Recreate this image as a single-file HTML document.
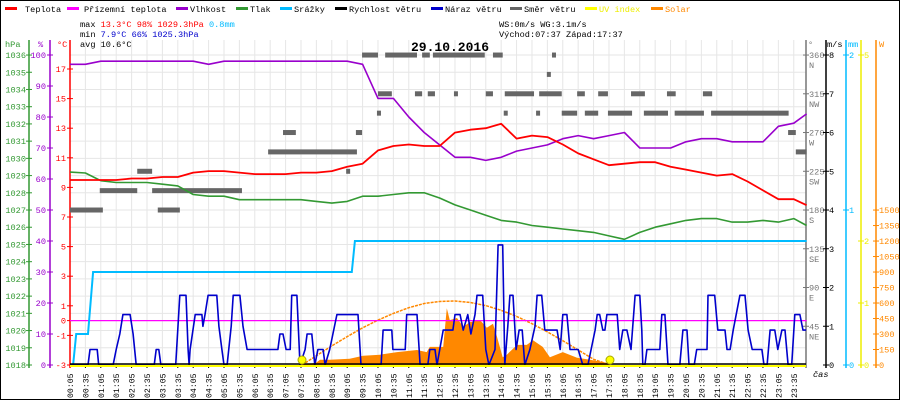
<!DOCTYPE html>
<html><head><meta charset="utf-8"><style>
html,body{margin:0;padding:0;background:#fff}
#wrap{position:relative;width:900px;height:400px;overflow:hidden}
svg text{font-family:"Liberation Mono",monospace}
</style></head><body>
<div id="wrap">
<svg id="chart" width="900" height="400" viewBox="0 0 900 400" xmlns="http://www.w3.org/2000/svg">
<rect x="0.5" y="0.5" width="899" height="399" fill="#fff" stroke="#000"/>
<g id="grid"></g>
<g id="legend" font-size="8.6">
<g><rect x="5" y="7" width="12" height="3" fill="#f00"/><text x="25" y="12">Teplota</text></g>
<g><rect x="67" y="7" width="12" height="3" fill="#f0f"/><text x="84" y="12">Přízemní teplota</text></g>
<g><rect x="176" y="7" width="12" height="3" fill="#90c"/><text x="190" y="12">Vlhkost</text></g>
<g><rect x="236" y="7" width="12" height="3" fill="#393"/><text x="250" y="12">Tlak</text></g>
<g><rect x="280" y="7" width="12" height="3" fill="#0bf"/><text x="294" y="12">Srážky</text></g>
<g><rect x="335" y="7" width="12" height="3" fill="#000"/><text x="349" y="12">Rychlost větru</text></g>
<g><rect x="431" y="7" width="12" height="3" fill="#00c"/><text x="445" y="12">Náraz větru</text></g>
<g><rect x="510" y="7" width="12" height="3" fill="#666"/><text x="524" y="12">Směr větru</text></g>
<g><rect x="585" y="7" width="12" height="3" fill="#ff0"/><text x="599" y="12" fill="#ee0">UV index</text></g>
<g><rect x="651" y="7" width="12" height="3" fill="#f80"/><text x="665" y="12" fill="#f80">Solar</text></g>
</g>
<g font-size="8.6">
<text x="80" y="27">max <tspan fill="#f00">13.3°C  98%  1029.3hPa</tspan>   <tspan fill="#0bf">0.8mm</tspan></text>
<text x="80" y="37">min  <tspan fill="#00c">7.9°C  66%  1025.3hPa</tspan></text>
<text x="80" y="47">avg 10.6°C</text>
<text x="499" y="27">WS:0m/s    WG:3.1m/s</text>
<text x="499" y="37">Východ:07:37 Západ:17:37</text>
</g>
<text x="450" y="51" font-size="13" font-weight="bold" text-anchor="middle">29.10.2016</text>
<g id="axes" font-size="8.6"></g>
<g id="plot"></g>
</svg>
</div>
<script>
// ---- data ----
const timeLabels = ["00:05","00:35","01:05","01:35","02:05","02:35","03:05","03:35","04:05","04:35","05:05","05:35","06:05","06:35","07:05","07:35","08:05","08:35","09:05","09:35","10:05","10:35","11:05","11:35","12:05","12:35","13:05","13:35","14:05","14:35","15:05","15:35","16:05","16:35","17:05","17:35","18:05","18:35","19:05","19:35","20:05","20:35","21:05","21:35","22:05","22:35","23:05","23:35"];
const tempValues = [9.5,9.5,9.5,9.5,9.6,9.6,9.7,9.7,10.0,10.1,10.1,10.0,9.9,9.9,9.9,10.0,10.0,10.1,10.4,10.6,11.5,11.8,11.9,11.8,11.8,12.7,12.9,13.0,13.3,12.3,12.5,12.4,11.9,11.3,10.9,10.5,10.6,10.7,10.7,10.4,10.2,10.0,9.8,9.9,9.4,8.8,8.2,8.2,7.8];
const groundTempValues = [0,0,0,0,0,0,0,0,0,0,0,0,0,0,0,0,0,0,0,0,0,0,0,0,0,0,0,0,0,0,0,0,0,0,0,0,0,0,0,0,0,0,0,0,0,0,0,0,0];
const humidityValues = [97,97,98,98,98,98,98,98,98,97,98,98,98,98,98,98,98,98,98,97,86,86,80,75,71,67,67,66,67,69,70,71,73,74,73,74,75,70,70,70,72,73,73,72,72,72,77,78,81];
const pressureValues = [1029.2,1029.15,1028.7,1028.6,1028.6,1028.6,1028.5,1028.4,1027.9,1027.8,1027.8,1027.6,1027.6,1027.6,1027.6,1027.6,1027.5,1027.4,1027.5,1027.8,1027.8,1027.9,1028.0,1028.0,1027.7,1027.3,1027.0,1026.7,1026.4,1026.3,1026.1,1026.0,1025.9,1025.8,1025.7,1025.5,1025.3,1025.7,1026.0,1026.2,1026.4,1026.5,1026.5,1026.3,1026.3,1026.4,1026.3,1026.5,1026.1];
const rainTimes = [5,11,17,40,50,554,560,1440];
const rainValues = [0,0,0.2,0.2,0.6,0.6,0.8,0.8];
const gustTimes = [5,40,44,58,61,89,95,102,108,122,128,134,169,173,178,182,211,219,231,235,237,239,249,262,264,268,274,291,295,301,305,311,319,323,336,342,350,410,414,420,426,434,437,447,453,463,467,476,482,488,498,502,511,525,566,572,611,615,632,634,658,661,681,687,702,706,716,720,732,751,755,765,771,780,786,794,798,809,815,821,833,839,848,852,858,862,868,874,880,886,891,901,911,915,924,930,954,960,965,973,979,995,1004,1014,1028,1032,1037,1043,1047,1051,1071,1076,1082,1090,1098,1106,1115,1119,1121,1125,1129,1154,1158,1164,1170,1193,1199,1207,1211,1221,1226,1246,1248,1261,1267,1275,1281,1285,1291,1297,1310,1320,1326,1334,1353,1357,1363,1369,1378,1384,1392,1398,1404,1411,1417,1427,1433,1439];
const gustValues = [0,0,0.4,0.4,0,0,0.4,0.8,1.3,1.3,0.8,0,0,0.4,0.4,0,0,1.8,1.8,0.4,0,0.4,1.3,1.3,1.0,1.3,1.8,1.8,1.0,0.4,0,0,1.0,1.8,1.8,1.0,0.4,0.4,0.8,0.8,0.4,0.4,1.8,1.8,0,0.4,0.8,0.8,0,0.4,0.4,0,0.4,1.3,1.3,0,0,0.9,0.9,0.4,0.4,1.3,1.3,0,0,0.4,0.4,0,0.9,0.9,1.3,1.3,0.9,1.3,0.8,1.3,1.8,1.8,0.4,0,0.4,3.1,3.1,0,1.0,1.8,1.8,0.4,0.9,0.9,0,0.4,1.0,1.8,1.8,0.9,0.9,0.4,1.3,1.3,0.4,0.4,0,0,0.9,1.3,1.3,0.9,0.9,1.3,1.3,0.4,0.9,0.9,0.4,1.8,1.8,0.9,0,0,0.4,0.4,1.3,1.3,0,0,0.9,0.9,0,0,0.4,0.4,1.8,1.8,0.9,0.9,0.9,0.4,0.4,0.9,1.8,1.8,0.9,0.4,0.4,0,0,0.9,0.9,0.4,0.9,0.9,0,0,1.3,1.3,0.9,0.9];
const solarTimes = [453,484,492,511,550,576,609,642,681,700,706,732,739,745,759,771,784,804,817,829,837,848,856,876,895,907,926,940,965,993,1018,1051,1057];
const solarValues = [0,20,50,50,60,90,100,125,145,125,175,175,550,435,455,370,415,435,360,400,270,75,100,195,195,240,175,75,125,70,50,20,0];
const theoTimes = [457,485,515,545,575,605,635,665,695,725,755,785,815,845,875,905,935,965,995,1025,1057];
const theoValues = [0,90,185,275,360,435,500,555,595,615,620,605,575,530,470,400,320,235,145,55,0];
const dirStart = [5,176,63,165,136,543,420,562,1404,391,1419,574,619,691,712,829,944,934,605,677,702,753,815,852,919,993,1034,1098,1168,1238,603,850,913,963,1008,1053,1123,1183,1254];
const dirEnd =   [69,219,136,340,165,549,445,574,1419,564,1440,605,681,706,813,848,950,940,632,691,716,758,829,909,963,1008,1053,1125,1185,1256,608,855,918,993,1034,1100,1170,1240,1405];
const dirDeg =   [180,180,202.5,202.5,225,225,270,270,270,247.5,247.5,360,360,360,360,360,360,337.5,315,315,315,315,315,315,315,315,315,315,315,315,292.5,292.5,292.5,292.5,292.5,292.5,292.5,292.5,292.5];
const sunEvents = [457,1057];
const hpaTicks = [1036,1035,1034,1033,1032,1031,1030,1029,1028,1027,1026,1025,1024,1023,1022,1021,1020,1019,1018];
const humTicks = [100,90,80,70,60,50,40,30,20,10,0];
const tempTicks = [17,15,13,11,9,7,5,3,1,0,-1,-3];
const dirTicks = [360,315,270,225,180,135,90,45];
const dirNames = ["N","NW","W","SW","S","SE","E","NE"];
const wsTicks = [8,7,6,5,4,3,2,1,0];
const mmTicks = [2,1,0];
const uvTicks = [5,2,1,0];
const wTicks = [1500,1350,1200,1050,900,750,600,450,300,150,0];

// ---- scales ----
const NS="http://www.w3.org/2000/svg";
function toMin(s){const p=s.split(":");return +p[0]*60+ +p[1];}
const sampleTimes = timeLabels.map(toMin).concat([1440]);
const xT = t => 70 + (t-5)*0.5133;
const yC = c => 69 + (17-c)*14.8;
const yP = p => 365 - (p-1018)*17.22;
const yH = h => 365 - h*3.1;
const yMM = m => 365 - m*155;
const yW = w => 365 - w*0.1033;
const yG = v => 365 - v*38.75;
const yD = d => 365 - d*0.861;
const yUV = u => 365 - u*62;
function mk(tag, attrs, parent, txt){const e=document.createElementNS(NS,tag);for(const k in attrs)e.setAttribute(k,attrs[k]);if(txt!==undefined)e.textContent=txt;parent.appendChild(e);return e;}
const grid=document.getElementById('grid'), axes=document.getElementById('axes'), plot=document.getElementById('plot');

// grid
hpaTicks.forEach(p=>{
  const l=mk('line',{x1:70,x2:806,y1:yP(p),y2:yP(p),stroke:'#e6e6e6','stroke-width':1},grid);
  
  
});
timeLabels.forEach(s=>{
  const x=xT(toMin(s));
  const l=mk('line',{x1:x,x2:x,y1:40,y2:365,stroke:'#e6e6e6','stroke-width':1},grid);
  
  
  const tk=mk('line',{x1:x,x2:x,y1:365,y2:368,stroke:'#000'},axes);
  
  
  const t=mk('text',{x:0,y:0,transform:`translate(${x+3},398) rotate(-90)`,'font-size':8.2},axes,s);
  
  
});
const cas=mk('text',{x:813,y:377,'font-style':'italic'},axes,'čas');



// left axes
function vaxis(x,color,ticks,scale,labelX,anchor,name,extra){
  const l=mk('line',{x1:x,x2:x,y1:40,y2:368,stroke:color,'stroke-width':1.5},axes);
  
  
  ticks.forEach((v,i)=>{
    const y=scale(v);
    const tk=mk('line',{x1:x-3,x2:x+3,y1:y,y2:y,stroke:color},axes);
    
    
    const t=mk('text',{x:labelX,y:y+3,fill:color,'text-anchor':anchor},axes,String(v));
    
    
    if(extra){const e=mk('text',{x:labelX,y:y+13,fill:color},axes,extra[i]);
      
      }
  });
}
vaxis(29,'#393',hpaTicks,yP,26,'end','hpa');
vaxis(50,'#90c',humTicks,yH,46,'end','humidity');
vaxis(70,'#f00',tempTicks,yC,66,'end','temperature');
vaxis(806,'#777',dirTicks,yD,809,'start','direction',dirNames);
vaxis(826,'#000',wsTicks,yG,829,'start','wind-speed');
vaxis(846,'#0bf',mmTicks,yMM,849,'start','rain');
vaxis(861,'#ee0',uvTicks,yUV,864,'start','uv');
vaxis(876,'#f80',wTicks,yW,879,'start','solar');
[['hPa',5,'#393'],['%',38,'#90c'],['°C',57,'#f00'],['°',808,'#777'],['m/s',827,'#000'],['mm',848,'#0bf'],['W',879,'#f80']].forEach(a=>{
  const t=mk('text',{x:a[1],y:47,fill:a[2]},axes,a[0]);
  
  
});

// solar fill
let sp=`M${xT(solarTimes[0])},365 `+solarTimes.map((t,i)=>`L${xT(t).toFixed(1)},${yW(solarValues[i]).toFixed(1)}`).join(' ')+` L${xT(solarTimes[solarTimes.length-1])},365 Z`;
const solar=mk('path',{d:sp,fill:'#f80',stroke:'none'},plot);


// theoretical solar
const theo=mk('polyline',{points:theoTimes.map((t,i)=>`${xT(t).toFixed(1)},${yW(theoValues[i]).toFixed(1)}`).join(' '),fill:'none',stroke:'#f80','stroke-width':1.5,'stroke-dasharray':'3 1'},plot);



// wind direction
dirDeg.forEach((d,i)=>{
  const x1=xT(dirStart[i]), x2=xT(dirEnd[i]);
  const r=mk('rect',{x:x1,y:yD(d)-2.5,width:Math.max(4,x2-x1),height:5,fill:'#666'},plot);
  
  
});

function line(times,vals,scale,color,w,name){
  const p=mk('polyline',{points:times.map((t,i)=>`${xT(t).toFixed(1)},${scale(vals[i]).toFixed(1)}`).join(' '),fill:'none',stroke:color,'stroke-width':w,'stroke-linejoin':'round'},plot);
  
  
}
// ground temperature
line(sampleTimes,groundTempValues,yC,'#f0f',1.2,'ground-temperature-line');
// rain step
const rp=[];rainTimes.forEach((t,i)=>{rp.push(`${xT(t).toFixed(1)},${yMM(rainValues[i]).toFixed(1)}`);});
const rain=mk('polyline',{points:rp.join(' '),fill:'none',stroke:'#0bf','stroke-width':2},plot);


line(sampleTimes,pressureValues,yP,'#393',1.6,'pressure-line');
line(sampleTimes,humidityValues,yH,'#90c',1.6,'humidity-line');
line(sampleTimes,tempValues,yC,'#f00',1.8,'temperature-line');
line(gustTimes,gustValues,yG,'#00c',1.6,'gust-line');
// wind speed & uv baselines
const ws=mk('line',{x1:70,x2:806,y1:364,y2:364,stroke:'#000','stroke-width':1.5},plot);


const uv=mk('line',{x1:70,x2:806,y1:366,y2:366,stroke:'#ff0','stroke-width':2},plot);


sunEvents.forEach(t=>{
  const c=mk('circle',{cx:xT(t),cy:360,r:4,fill:'#ff0',stroke:'#aa0'},plot);
  
  
});
</script>
</body></html>
